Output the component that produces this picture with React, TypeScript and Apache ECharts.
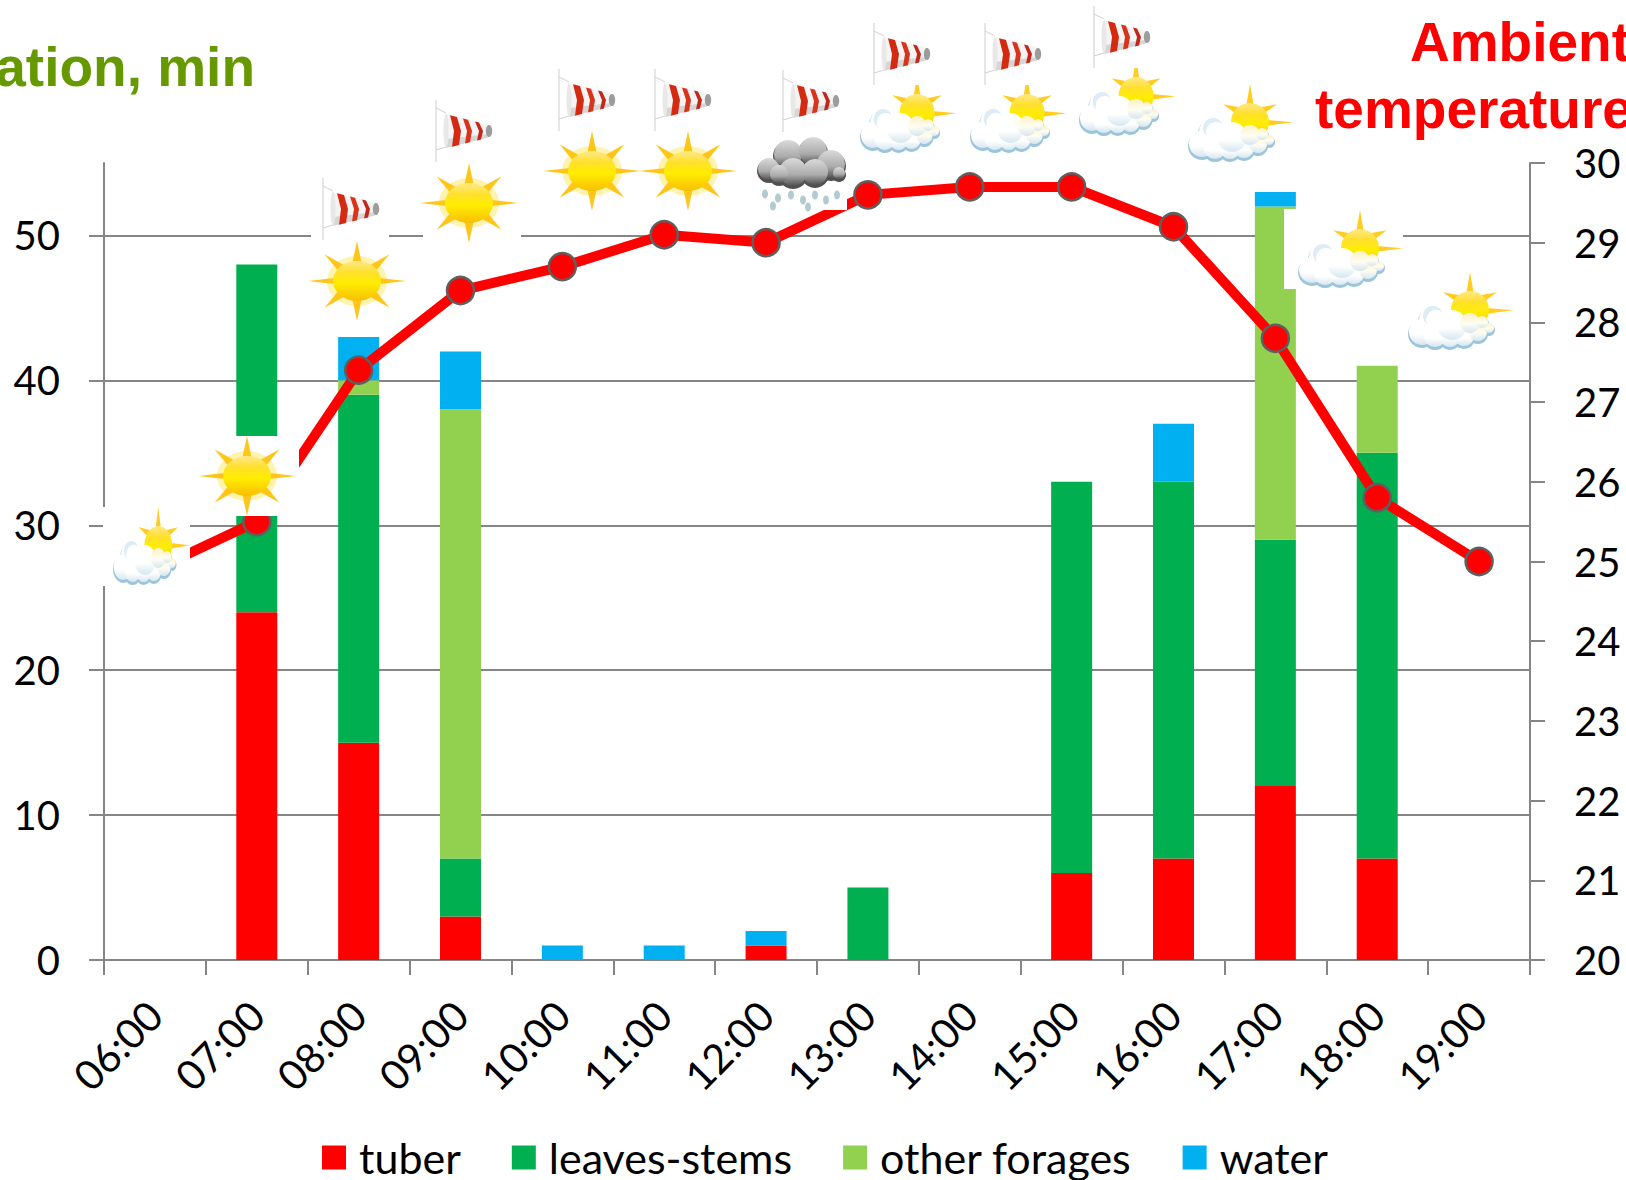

import React, { useEffect, useRef } from "react";
import * as echarts from "echarts";

const hours = ["06:00","07:00","08:00","09:00","10:00","11:00","12:00","13:00","14:00","15:00","16:00","17:00","18:00","19:00"];
const tuber = [0,24,15,3,0,0,1,0,0,6,7,12,7,0];
const leavesStems = [0,24,24,4,0,0,0,5,0,27,26,17,28,0];
const otherForages = [0,0,1,31,0,0,0,0,0,0,0,23,6,0];
const water = [0,0,3,4,1,1,1,0,0,0,4,1,0,0];
const temperature = [24.9,25.5,27.4,28.4,28.7,29.1,29.0,29.6,29.7,29.7,29.2,27.8,25.8,25.0];
const leftTicks = [0,10,20,30,40,50];
const leftTitle = "ation, min";
const rightTitle1 = "Ambient";
const rightTitle2 = "temperature";

const FONT = "Lato, 'Open Sans', sans-serif";
const GRAY = "#868686";

const el = (type: string, shape: any, style: any) => ({ type, z: 100, silent: true, shape, style });
const white = (x: number, y: number, w: number, h: number) => el("rect", { x, y, width: w, height: h }, { fill: "#fff" });
const circ = (cx: number, cy: number, r: number, fill: any) => el("circle", { cx, cy, r }, { fill });

const bodyFill = {
  type: "linear", x: 0, y: 0, x2: 0, y2: 1,
  colorStops: [
    { offset: 0, color: "#FFE98A" }, { offset: 0.28, color: "#FFE02E" },
    { offset: 0.55, color: "#FFEE00" }, { offset: 1, color: "#F8BE00" },
  ],
};
const puffFill = {
  type: "linear", x: 0, y: 0, x2: 0, y2: 1,
  colorStops: [{ offset: 0, color: "#FFFFFF" }, { offset: 0.6, color: "#FFFFFF" }, { offset: 1, color: "#D5E6F0" }],
};
const warmPuffFill = {
  type: "linear", x: 0, y: 0, x2: 0, y2: 1,
  colorStops: [{ offset: 0, color: "#FBF2C6" }, { offset: 0.55, color: "#FFFDF2" }, { offset: 1, color: "#D5E6F0" }],
};

// one spike: thin base on the sun's rim, sharp tip
function spike(angle: number, tipR: [number, number], baseR: [number, number], half: number) {
  const p = (a: number, r: [number, number]) => [Math.cos(a) * r[0], Math.sin(a) * r[1]];
  return [p(angle - half, baseR), p(angle, tipR), p(angle + half, baseR)];
}

function sunIcon(cx: number, cy: number) {
  const q = Math.PI / 4;
  const rays = [
    spike(0, [49, 0], [23, 19], 0.16), spike(Math.PI, [49, 0], [23, 19], 0.16),
    spike(Math.PI / 2, [0, 40], [23, 19], 0.2), spike(-Math.PI / 2, [0, 40], [23, 19], 0.2),
    spike(q, [46, 38], [23, 19], 0.2), spike(3 * q, [46, 38], [23, 19], 0.2),
    spike(-q, [46, 38], [23, 19], 0.2), spike(-3 * q, [46, 38], [23, 19], 0.2),
  ];
  return {
    type: "group", x: cx, y: cy, z: 100, silent: true,
    children: [
      el("ellipse", { cx: 0, cy: 0, rx: 30, ry: 25 }, { fill: "#FFF3B0" }),
      ...rays.map((points) => el("polygon", { points }, { fill: "#FFC61A" })),
      el("ellipse", { cx: 0, cy: 0, rx: 24, ry: 20 }, { fill: bodyFill }),
    ],
  };
}

function cloudSun(x: number, y: number, sx: number, sy: number) {
  const q = Math.PI / 4;
  const r0: [number, number] = [17, 17];
  const rays = [
    spike(0.05, [43, 3], r0, 0.17),
    spike(-q, [38, 25], r0, 0.24),
    spike(-Math.PI / 2, [1, 38], r0, 0.22),
    spike(-3 * q, [38, 25], r0, 0.24),
  ];
  const lobes = [
    [26,50,16],[14,62,14],[27,66,12],[42,67,11],[56,66,11],[70,62,10],[81,58,6],[44,55,16],[62,53,11],[74,52,7],
  ];
  const rim = lobes.map(([a, b, r]) => circ(a, b, r, "#9CC5DC"));
  const fill = lobes.map(([a, b, r]) => circ(a, b - 2, r - 1, a >= 58 ? warmPuffFill : puffFill));
  return {
    type: "group", x, y, scaleX: sx, scaleY: sy, z: 100, silent: true,
    children: [
      ...rays.map((points) => ({ ...el("polygon", { points }, { fill: "#FFCC1F" }), x: 62, y: 38 })),
      el("circle", { cx: 62, cy: 38, r: 19 }, { fill: bodyFill }),
      ...rim,
      ...fill,
      circ(25, 44, 10, "#DDECF5"),
      circ(28, 48, 10, "#FFFFFF"),
    ],
  };
}

function windsock(x: number, y: number) {
  const top = (t: number) => 14 + (t - 10) * 0.25;
  const bot = (t: number) => 48 - (t - 10) * 0.25;
  const band = (a: number, b: number, fill: string) => {
    const s = 3;
    const m = (top(a) + bot(a)) / 2;
    return el("polygon", {
      points: [[a - 1, top(a)], [b - 1, top(b)], [b + s, m], [b + 1, bot(b)], [a + 1, bot(a)], [a + s, m]],
    }, { fill });
  };
  return {
    type: "group", x, y, z: 100, silent: true,
    children: [
      white(-12, 0, 78, 62),
      el("line", { x1: 0, y1: 0, x2: 0, y2: 62 }, { stroke: "#DEDEDE", lineWidth: 1.5 }),
      el("line", { x1: 0, y1: 8, x2: 10, y2: 13 }, { stroke: "#D0D0D0", lineWidth: 1 }),
      el("line", { x1: 0, y1: 50, x2: 10, y2: 47 }, { stroke: "#D0D0D0", lineWidth: 1 }),
      el("polygon", { points: [[10, top(10)], [52, top(52)], [52, bot(52)], [10, bot(10)]] }, { fill: "#F4F4F4" }),
      el("polygon", { points: [[10, 39], [52, 34], [52, bot(52)], [10, bot(10)]] }, { fill: "#D6D6D6" }),
      el("ellipse", { cx: 10, cy: 31, rx: 2.5, ry: 17 }, { fill: "#E8E8E8" }),
      band(15, 22, "#D52A12"),
      band(28, 33, "#D9331A"),
      band(40, 44, "#C4261A"),
      el("ellipse", { cx: 53, cy: 31, rx: 3.2, ry: 6 }, { fill: "#9C9C9C" }),
    ],
  };
}

function rainCloud(x: number, y: number) {
  const grad = {
    type: "linear", x: 0, y: 0, x2: 0, y2: 1,
    colorStops: [{ offset: 0, color: "#DADADA" }, { offset: 0.6, color: "#ABABAB" }, { offset: 1, color: "#505050" }],
  };
  const lobes = [[14,33,12],[33,18,15],[58,15,15],[76,28,15],[38,36,15],[60,36,14],[24,38,10],[84,37,7]];
  const drops = [[10,56],[23,60],[36,57],[48,62],[60,57],[71,62],[82,57],[18,68],[53,69]];
  return {
    type: "group", x, y, z: 100, silent: true,
    children: [
      white(0, -3, 92, 75),
      ...lobes.map(([a, b, r]) => circ(a, b, r, "#505050")),
      ...lobes.map(([a, b, r]) => circ(a, b - 2, r - 1, grad)),
      ...drops.map(([a, b]) => el("ellipse", { cx: a, cy: b, rx: 3, ry: 4.5 }, { fill: "#B3CAD3" })),
    ],
  };
}

function title(text: string, x: number, y: number, align: string, fill: string) {
  return {
    type: "text", x, y, z: 100, silent: true,
    style: { text, fill, align, verticalAlign: "middle", font: "bold 55px 'Liberation Sans', Arial, sans-serif" },
  };
}

function buildGraphics() {
  return [
    white(103, 507, 87, 79),
    cloudSun(113, 507, 0.73, 1),
    white(202, 436, 97, 80),
    sunIcon(247, 476),
    white(311, 178, 78, 63),
    white(311, 241, 98, 79),
    sunIcon(357, 281),
    windsock(323, 178),
    white(423, 163, 98, 79),
    sunIcon(469, 203),
    windsock(436, 100),
    sunIcon(592, 171),
    windsock(559, 69),
    sunIcon(688, 171),
    windsock(655, 69),
    rainCloud(755, 138),
    windsock(783, 70),
    cloudSun(860, 75, 0.92, 1),
    windsock(874, 23),
    cloudSun(970, 75, 0.92, 1),
    windsock(985, 23),
    cloudSun(1079, 58, 0.92, 1),
    windsock(1094, 6),
    cloudSun(1188, 84, 1, 1),
    white(1284, 209, 119, 80),
    cloudSun(1298, 210, 1, 1),
    cloudSun(1408, 272, 1, 1),
    title(leftTitle, 255, 67, "right", "#669900"),
    title(rightTitle1, 1410, 42, "left", "#FF0000"),
    title(rightTitle2, 1315, 109, "left", "#FF0000"),
  ];
}

export default function App() {
  const ref = useRef<HTMLDivElement>(null);
  useEffect(() => {
    const chart = echarts.init(ref.current!, null, { renderer: "svg" });
    const bar = (name: string, data: number[], color: string) => ({
      name, type: "bar", stack: "t", data, barWidth: 41, yAxisIndex: 0, itemStyle: { color },
    });
    chart.setOption({
      animation: false,
      backgroundColor: "#fff",
      grid: { left: 104, right: 96, top: 163, bottom: 220 },
      legend: {
        data: ["tuber", "leaves-stems", "other forages", "water"],
        left: 317, top: 1131, icon: "rect", itemWidth: 24, itemHeight: 24, itemGap: 51,
        selectedMode: false,
        textStyle: { fontFamily: FONT, fontSize: 43, color: "#000", padding: [0, 0, 0, 8] },
      },
      xAxis: {
        type: "category", data: hours, boundaryGap: true,
        axisLine: { lineStyle: { color: GRAY, width: 2 } },
        axisTick: { show: true, interval: 0, length: 15, alignWithLabel: false, lineStyle: { color: GRAY, width: 2 } },
        axisLabel: { interval: 0, rotate: 45, margin: 48, fontFamily: FONT, fontSize: 41, color: "#000" },
      },
      yAxis: [
        {
          type: "value", min: 0, max: 55, interval: 10, position: "left",
          axisLine: { show: true, lineStyle: { color: GRAY, width: 2 } },
          axisTick: { show: true, length: 15, customValues: leftTicks, lineStyle: { color: GRAY, width: 2 } },
          axisLabel: { margin: 44, customValues: leftTicks, fontFamily: FONT, fontSize: 40, color: "#000" },
          splitLine: { show: true, showMaxLine: true, showMinLine: false, lineStyle: { color: GRAY, width: 2 } },
        },
        {
          type: "value", min: 20, max: 30, interval: 1, position: "right",
          axisLine: { show: true, lineStyle: { color: GRAY, width: 2 } },
          axisTick: { show: true, length: 15, lineStyle: { color: GRAY, width: 2 } },
          axisLabel: { margin: 44, padding: [0, 0, 3, 0], fontFamily: FONT, fontSize: 40, color: "#000" },
          splitLine: { show: false },
        },
      ],
      series: [
        bar("tuber", tuber, "#FF0000"),
        bar("leaves-stems", leavesStems, "#00B050"),
        bar("other forages", otherForages, "#92D050"),
        bar("water", water, "#00B0F0"),
        {
          name: "Ambient temperature", type: "line", yAxisIndex: 1, data: temperature, z: 5,
          symbol: "circle", symbolSize: 27,
          lineStyle: { color: "#FF0000", width: 10 },
          itemStyle: { color: "#FF0000", borderColor: "#5F5F5F", borderWidth: 2.5 },
        },
      ],
      graphic: { z: 100, elements: buildGraphics() },
    });
    return () => chart.dispose();
  }, []);
  return (
    <div
      ref={ref}
      style={{ position: "fixed", left: 0, top: 0, width: 1626, height: 1180, overflow: "hidden", background: "#fff" }}
    />
  );
}
